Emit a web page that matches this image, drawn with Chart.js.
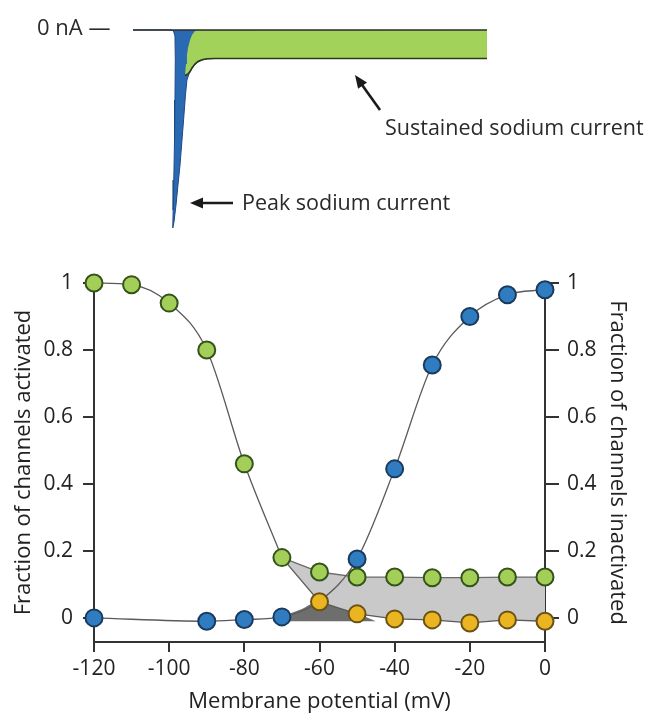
<!DOCTYPE html>
<html><head><meta charset="utf-8">
<script src="https://cdn.jsdelivr.net/npm/chart.js@4.4.1/dist/chart.umd.min.js"></script>
<style>
html,body{margin:0;padding:0;background:#fff;}
#wrap{position:relative;width:650px;height:715px;overflow:hidden;background:#fff;}
#topc{position:absolute;left:0;top:0;}
#botc{position:absolute;left:0;top:245px;}
</style></head><body>
<div id="wrap">
<canvas id="topc" width="650" height="245"></canvas>
<canvas id="botc" width="650" height="470"></canvas>
</div>
<script>
// ---------- top panel: current trace (time in ms, current in nA) ----------
const traceTime    = [-4.95,-0.13,0.19,0.38,0.42,0.38,0.32,0.23,0.15,0.10,0.25,0.51,0.76,1.02,1.27,1.52,1.71,1.90,2.16,2.54,2.92,3.30,3.81,4.44,5.46,40.0];
const traceCurrent = [0,0,-0.05,-0.30,-1.52,-3.54,-5.56,-7.58,-9.09,-10.0,-9.70,-8.84,-7.83,-6.82,-5.56,-4.29,-3.28,-2.53,-2.22,-1.94,-1.74,-1.62,-1.52,-1.46,-1.44,-1.44];
const splitTime    = [1.65,1.78,1.90,2.03,2.29,2.54,2.86,3.17,40.0];
const splitCurrent = [-2.3,-1.72,-1.26,-0.91,-0.51,-0.25,-0.08,-0.015,0];
const sustTime     = [1.65,2.03,2.29,2.54,2.92,3.30,3.81,4.44,5.46,40.0];
const sustCurrent  = [-2.3,-2.22,-2.10,-1.92,-1.72,-1.59,-1.50,-1.45,-1.44,-1.44];
const baseTime     = [-4.95,40.0];
const baseCurrent  = [0,0];

// ---------- bottom panel: fraction vs membrane potential (mV) ----------
const voltages    = [-120,-110,-100,-90,-80,-70,-60,-50,-40,-30,-20,-10,0];
const greenVals   = [1.0,0.995,0.94,0.80,0.46,0.18,0.137,0.122,0.122,0.12,0.12,0.122,0.122];
const blueV       = [-120,-90,-80,-70,-50,-40,-30,-20,-10,0];
const blueVals    = [0,-0.01,-0.005,0.003,0.176,0.445,0.755,0.90,0.965,0.98];
const actCurveV   = [-120,-90,-80,-70,-60,-50,-40,-30,-20,-10,0];
const actCurveVal = [0,-0.01,-0.005,0.003,0.05,0.176,0.445,0.755,0.90,0.965,0.98];
const yellowV     = [-60,-50,-40,-30,-20,-10,0];
const yellowVals  = [0.048,0.012,-0.003,-0.006,-0.015,-0.006,-0.01];
const windowV     = [-72,-70,-65,-60,-55,-50,-45];
const windowVals  = [-0.01,0.003,0.025,0.05,0.03,0.012,-0.01];
const xTicks = [-120,-100,-80,-60,-40,-20,0];
const yTicks = [0,0.2,0.4,0.6,0.8,1];

const FONT = '"Open Sans", sans-serif';
Chart.defaults.font.family = FONT;
const pts = (xs, ys) => xs.map((x, i) => ({x, y: ys[i]}));

function arrow(c, x1, y1, x2, y2) {
  const a = Math.atan2(y2 - y1, x2 - x1), L = 13, W = 5.5;
  c.strokeStyle = '#1a1a1a'; c.fillStyle = '#1a1a1a'; c.lineWidth = 2.6;
  c.beginPath(); c.moveTo(x1, y1);
  c.lineTo(x2 - Math.cos(a) * L * 0.8, y2 - Math.sin(a) * L * 0.8); c.stroke();
  c.beginPath(); c.moveTo(x2, y2);
  c.lineTo(x2 - Math.cos(a) * L + Math.sin(a) * W, y2 - Math.sin(a) * L - Math.cos(a) * W);
  c.lineTo(x2 - Math.cos(a) * L - Math.sin(a) * W, y2 - Math.sin(a) * L + Math.cos(a) * W);
  c.closePath(); c.fill();
}

const topNotes = {
  id: 'topNotes',
  afterDraw(chart) {
    const c = chart.ctx; c.save();
    c.fillStyle = '#2a2a2a'; c.font = '22px ' + FONT; c.textBaseline = 'middle';
    c.fillText('0 nA —', 37, 29);
    c.font = '21.5px ' + FONT;
    c.fillText('Sustained sodium current', 385, 129);
    c.fillText('Peak sodium current', 242, 204);
    arrow(c, 380, 110, 355, 75);
    arrow(c, 233, 203, 190, 203);
    c.restore();
  }
};

new Chart(document.getElementById('topc'), {
  type: 'line',
  data: { datasets: [
    { data: pts(baseTime, baseCurrent), borderColor: '#2b2b2b', borderWidth: 1.6, pointRadius: 0, fill: false, tension: 0, order: 0 },
    { data: pts(sustTime, sustCurrent), borderColor: '#2c3a1d', borderWidth: 1.6, pointRadius: 0, fill: false, tension: 0, order: 1 },
    { data: pts(splitTime, splitCurrent), borderWidth: 0, borderColor: 'rgba(0,0,0,0)', pointRadius: 0, backgroundColor: '#a2d25a', fill: 1, tension: 0, order: 2 },
    { data: pts(traceTime, traceCurrent), borderColor: '#1d4a85', borderWidth: 1, pointRadius: 0, backgroundColor: '#2a6ab3', fill: 'origin', tension: 0, order: 3 }
  ]},
  options: {
    responsive: false, animation: false, events: [],
    layout: { padding: 0 },
    plugins: { legend: { display: false }, tooltip: { enabled: false }, filler: { drawTime: 'beforeDatasetsDraw' } },
    scales: {
      x: { type: 'linear', display: false, min: -21.84, max: 60.70 },
      y: { type: 'linear', display: false, min: -10.86, max: 1.515 }
    }
  },
  plugins: [topNotes]
});

const lineBase = { pointRadius: 0, pointHoverRadius: 0, borderColor: '#5a5a5a', borderWidth: 1.3, clip: false };
const ptBase = { showLine: false, pointRadius: 8.5, pointBorderWidth: 2, clip: false };

new Chart(document.getElementById('botc'), {
  type: 'line',
  data: { datasets: [
    Object.assign({}, ptBase, { data: pts(voltages, greenVals), pointBackgroundColor: '#a3cf58', pointBorderColor: '#34521a', order: 0 }),
    Object.assign({}, ptBase, { data: pts(yellowV, yellowVals), pointBackgroundColor: '#eab521', pointBorderColor: '#6a5214', order: 1 }),
    Object.assign({}, ptBase, { data: pts(blueV, blueVals), pointBackgroundColor: '#2f7cc1', pointBorderColor: '#1a3a5e', order: 2 }),
    Object.assign({}, lineBase, { data: pts(voltages.slice(0, 6), greenVals.slice(0, 6)), cubicInterpolationMode: 'monotone', fill: false, order: 3 }),
    Object.assign({}, lineBase, { data: pts([voltages[5]].concat(yellowV), [greenVals[5]].concat(yellowVals)), tension: 0, fill: false, order: 4 }),
    Object.assign({}, lineBase, { data: pts(actCurveV, actCurveVal), cubicInterpolationMode: 'monotone', fill: false, order: 5 }),
    Object.assign({}, lineBase, { data: pts(voltages.slice(5), greenVals.slice(5)), tension: 0, borderColor: '#6a6a6a', fill: 4, backgroundColor: '#c9c9c9', order: 6 }),
    Object.assign({}, lineBase, { data: pts(windowV, windowVals), cubicInterpolationMode: 'monotone', borderWidth: 0, borderColor: 'rgba(0,0,0,0)', fill: { value: -0.01 }, backgroundColor: '#6e6e6e', order: 7 })
  ]},
  options: {
    responsive: false, animation: false, events: [],
    layout: { padding: { top: 38, left: 0, right: 0, bottom: 0 } },
    plugins: { legend: { display: false }, tooltip: { enabled: false }, filler: { drawTime: 'beforeDatasetsDraw' } },
    scales: {
      x: {
        type: 'linear', position: 'bottom', min: -120, max: 0,
        afterBuildTicks: s => { s.ticks = xTicks.map(v => ({ value: v })); },
        afterFit: s => { s.height = 73; },
        ticks: { autoSkip: false, maxRotation: 0, font: { size: 21 }, color: '#222', padding: 4, callback: v => String(v) },
        grid: { drawOnChartArea: false, drawTicks: true, tickLength: 10, color: '#333', lineWidth: 2 },
        border: { display: true, color: '#333', width: 2 },
        title: { display: true, text: 'Membrane potential (mV)', font: { size: 22 }, color: '#222', padding: { top: 0, bottom: 0 } }
      },
      y: {
        type: 'linear', position: 'left', min: -0.072, max: 1,
        afterBuildTicks: s => { s.ticks = yTicks.map(v => ({ value: v })); },
        afterFit: s => { s.width = 94; },
        ticks: { autoSkip: false, font: { size: 21 }, color: '#222', padding: 10, callback: v => String(+v.toFixed(1)) },
        grid: { drawOnChartArea: false, drawTicks: true, tickLength: 11, color: '#333', lineWidth: 2 },
        border: { display: true, color: '#333', width: 2 },
        title: { display: true, text: 'Fraction of channels activated', font: { size: 22 }, color: '#222', padding: { top: 11, bottom: 0 } }
      },
      y2: {
        type: 'linear', position: 'right', min: -0.072, max: 1,
        afterBuildTicks: s => { s.ticks = yTicks.map(v => ({ value: v })); },
        afterFit: s => { s.width = 105; },
        ticks: { autoSkip: false, font: { size: 21 }, color: '#222', padding: 8, callback: v => String(+v.toFixed(1)) },
        grid: { drawOnChartArea: false, drawTicks: true, tickLength: 14, color: '#333', lineWidth: 2 },
        border: { display: true, color: '#333', width: 2 },
        title: { display: true, text: 'Fraction of channels inactivated', font: { size: 22 }, color: '#222', padding: { top: 20, bottom: 0 } }
      }
    }
  }
});
</script>
</body></html>
